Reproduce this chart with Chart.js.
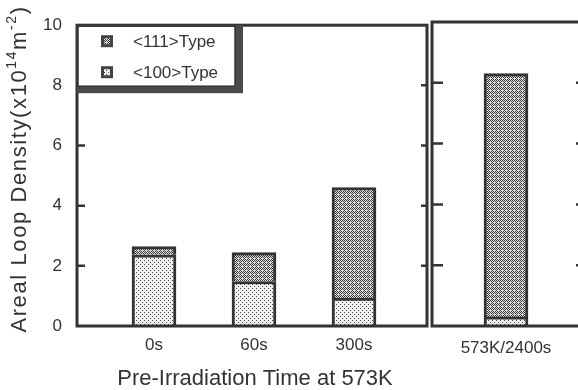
<!DOCTYPE html>
<html>
<head>
<meta charset="utf-8">
<script src="https://cdn.jsdelivr.net/npm/chart.js@4.4.2/dist/chart.umd.min.js"></script>
<style>
  html, body { margin: 0; padding: 0; background: #fff; overflow: hidden; }
  #wrap { position: relative; width: 578px; height: 390px; overflow: hidden; }
  canvas { position: absolute; top: 0; }
  #left-chart { left: 0; }
  #right-chart { left: 420px; }
</style>
</head>
<body>
<div id="wrap">
  <canvas id="left-chart" width="432" height="390"></canvas>
  <canvas id="right-chart" width="170" height="390"></canvas>
</div>
<script>
// données (x10^14 m^-2)
const timeLabels = ['0s', '60s', '300s'];
const type100 = [2.37, 1.48, 0.93];
const type111 = [0.27, 0.96, 3.67];

const refLabels = ['573K/2400s'];
const ref100 = [0.30];
const ref111 = [8.0];

const yStep = 2;
const yMax = 10;
const legendLabels = ['<111>Type', '<100>Type'];
const xTitle = 'Pre-Irradiation Time at 573K';

const INK = '#333';
const FONT = "'Liberation Sans', Arial, Helvetica, sans-serif";

// motifs pour les barres
function makePattern(ctx, kind) {
  const c = document.createElement('canvas');
  c.width = 4; c.height = 4;
  const g = c.getContext('2d');
  if (kind === 'dots') {
    g.fillStyle = '#f2f2f2'; g.fillRect(0, 0, 4, 4);
    g.fillStyle = '#444';
    g.fillRect(0, 0, 1, 1); g.fillRect(2, 2, 1, 1);
  } else {
    g.fillStyle = '#e0e0e0'; g.fillRect(0, 0, 4, 4);
    g.fillStyle = '#3a3a3a';
    for (let x = 0; x < 4; x++) {
      for (let y = 0; y < 4; y++) {
        if ((x + y) % 2 === 0 && !(x === 2 && y === 2)) g.fillRect(x, y, 1, 1);
      }
    }
  }
  return ctx.createPattern(c, 'repeat');
}

// cadre + graduations vers l'intérieur
function framePlugin(leftTick, rightTick) {
  return {
    id: 'frame',
    afterDraw(chart) {
      const { ctx, chartArea: a, scales } = chart;
      ctx.save();
      ctx.strokeStyle = INK;
      ctx.lineWidth = 3;
      ctx.strokeRect(a.left, a.top, a.right - a.left, a.bottom - a.top);
      ctx.lineWidth = 2.5;
      for (let v = yStep; v < yMax; v += yStep) {
        const y = scales.y.getPixelForValue(v);
        ctx.beginPath();
        ctx.moveTo(a.left, y); ctx.lineTo(a.left + leftTick, y);
        ctx.moveTo(a.right, y); ctx.lineTo(a.right - rightTick, y);
        ctx.stroke();
      }
      ctx.restore();
    }
  };
}

const legendPlugin = {
  id: 'boxLegend',
  afterDraw(chart) {
    const { ctx, chartArea: a } = chart;
    const x0 = a.left, y0 = a.top;
    ctx.save();
    ctx.fillStyle = '#4a4a4a';
    ctx.fillRect(x0, y0, 166, 68);
    ctx.fillStyle = '#fff';
    ctx.fillRect(x0 + 1, y0 + 1, 157, 60);
    ctx.strokeStyle = INK;
    ctx.lineWidth = 1.5;
    ctx.strokeRect(x0 + 1, y0 + 1, 157, 60);
    // ordre : <111> en haut, <100> en dessous
    const items = [chart.data.datasets[1], chart.data.datasets[0]];
    items.forEach((ds, i) => {
      const cy = y0 + 16 + i * 31;
      ctx.fillStyle = '#444';
      ctx.fillRect(x0 + 24, cy - 6, 12, 12);
      ctx.fillStyle = ds.backgroundColor;
      ctx.fillRect(x0 + 27, cy - 3, 6, 6);
      ctx.fillStyle = INK;
      ctx.font = '17px ' + FONT;
      ctx.textBaseline = 'middle';
      ctx.textAlign = 'left';
      ctx.fillText(legendLabels[i], x0 + 56, cy + 1);
    });
    ctx.restore();
  }
};

const titlesPlugin = {
  id: 'titles',
  afterDraw(chart) {
    const { ctx } = chart;
    ctx.save();
    ctx.fillStyle = INK;
    ctx.textBaseline = 'middle';
    // titre axe x
    ctx.font = '22px ' + FONT;
    ctx.textAlign = 'center';
    ctx.fillText(xTitle, 255, 379);
    // titre axe y avec exposants
    ctx.letterSpacing = '1.6px';
    const parts = [
      ['Areal Loop Density(x10', 22, 0],
      ['14', 14, -8],
      ['m', 22, 0],
      ['-2', 14, -8],
      [')', 22, 0]
    ];
    let total = 0;
    parts.forEach(p => { ctx.font = p[1] + 'px ' + FONT; p.push(ctx.measureText(p[0]).width); total += p[3]; });
    ctx.translate(20, 169);
    ctx.rotate(-Math.PI / 2);
    ctx.textAlign = 'left';
    let x = -total / 2;
    parts.forEach(p => {
      ctx.font = p[1] + 'px ' + FONT;
      ctx.fillText(p[0], x, p[2]);
      x += p[3];
    });
    ctx.restore();
  }
};

function barSet(ctx, label, values, kind) {
  return {
    label,
    data: values.map((v, i) => ({ x: i, y: v })),
    backgroundColor: makePattern(ctx, kind),
    borderColor: INK,
    borderWidth: 3,
    barThickness: 44,
    stack: 'loops'
  };
}

const leftCanvas = document.getElementById('left-chart');
const leftCtx = leftCanvas.getContext('2d');
new Chart(leftCtx, {
  type: 'bar',
  data: {
    datasets: [
      barSet(leftCtx, '<100>Type', type100, 'dots'),
      barSet(leftCtx, '<111>Type', type111, 'hatch')
    ]
  },
  options: {
    responsive: false,
    animation: false,
    devicePixelRatio: 1,
    layout: { padding: { top: 22, right: 5, bottom: 0, left: 0 } },
    plugins: { legend: { display: false }, tooltip: { enabled: false } },
    scales: {
      x: {
        type: 'linear', min: -0.77, max: 2.73, stacked: true, offset: false,
        grid: { display: false, drawTicks: false, offset: false },
        border: { display: false },
        afterBuildTicks: s => { s.ticks = timeLabels.map((_, i) => ({ value: i })); },
        ticks: {
          callback: v => timeLabels[v],
          font: { family: FONT, size: 17 }, color: INK,
          padding: 9, maxRotation: 0, autoSkip: false
        },
        afterFit: s => { s.height = 390 - 326; }
      },
      y: {
        min: 0, max: yMax, stacked: true,
        grid: { display: false, drawTicks: false },
        border: { display: false },
        ticks: { stepSize: yStep, font: { family: FONT, size: 17 }, color: INK, padding: 15 },
        afterFit: s => { s.width = 77; }
      }
    }
  },
  plugins: [framePlugin(8, 6), legendPlugin, titlesPlugin]
});

const rightCanvas = document.getElementById('right-chart');
const rightCtx = rightCanvas.getContext('2d');
new Chart(rightCtx, {
  type: 'bar',
  data: {
    labels: refLabels,
    datasets: [
      { ...barSet(rightCtx, '<100>Type', ref100, 'dots'), data: ref100 },
      { ...barSet(rightCtx, '<111>Type', ref111, 'hatch'), data: ref111 }
    ]
  },
  options: {
    responsive: false,
    animation: false,
    devicePixelRatio: 1,
    layout: { padding: { top: 22, right: 10, bottom: 0, left: 12 } },
    plugins: { legend: { display: false }, tooltip: { enabled: false } },
    scales: {
      x: {
        stacked: true, offset: true,
        grid: { display: false, drawTicks: false },
        border: { display: false },
        ticks: { font: { family: FONT, size: 17 }, color: INK, padding: 12, maxRotation: 0 },
        afterFit: s => { s.height = 390 - 326; }
      },
      y: { display: false, min: 0, max: yMax, stacked: true }
    }
  },
  plugins: [framePlugin(11, 4)]
});
</script>
</body>
</html>
